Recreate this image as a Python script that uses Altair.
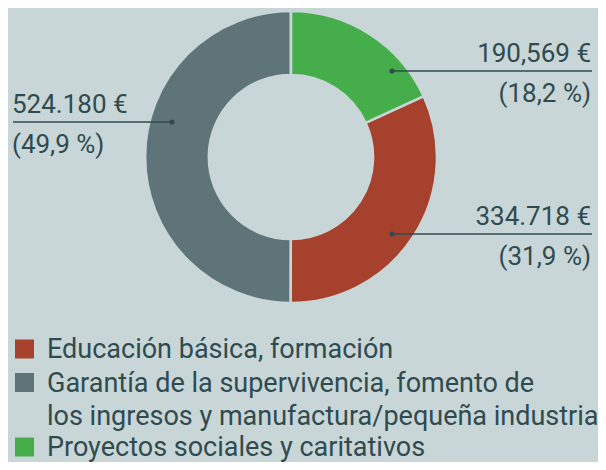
import altair as alt
import pandas as pd

# ---- data ----
categories = ["Educación básica, formación",
              "Garantía de la supervivencia, fomento de los ingresos y manufactura/pequeña industria",
              "Proyectos sociales y caritativos"]
values = [334718, 524180, 190569]
slice_order = [1, 2, 0]          # clockwise from 12 o'clock: green, red, gray
value_labels = ["334.718 €", "524.180 €", "190,569 €"]
pct_labels = ["(31,9 %)", "(49,9 %)", "(18,2 %)"]
colors = ["#a6412e", "#5e7478", "#45ae4b"]

legend_lines = ["Educación básica, formación",
                "Garantía de la supervivencia, fomento de",
                "los ingresos y manufactura/pequeña industria",
                "Proyectos sociales y caritativos"]

# ---- style / layout ----
BG = "#c9d6d7"
TXT = "#2f4b50"
FONT = "Roboto"
W, H = 590, 454
CX, CY = 283, 149

df = pd.DataFrame({"cat": categories, "value": values, "ord": slice_order})
color_scale = alt.Scale(domain=categories, range=colors)

donut = alt.Chart(df).mark_arc(
    innerRadius=82, outerRadius=146, stroke=BG, strokeWidth=2.6
).encode(
    theta=alt.Theta("value:Q", stack=True),
    order=alt.Order("ord:Q"),
    color=alt.Color("cat:N", scale=color_scale, legend=None),
    x=alt.value(CX), y=alt.value(CY),
)

# annotation layout (pixel positions of each slice's callout)
ann = pd.DataFrame({
    "val": value_labels,
    "pct": pct_labels,
    "side": ["right", "left", "right"],
    "tx": [583, 4, 583],
    "line_y": [226, 114, 63],
    "dot_x": [384, 164, 384],
    "end_x": [584, 5, 584],
})
ann["vy"] = ann["line_y"] - 9
ann["py"] = ann["line_y"] + 31

layers = [donut]
for side in ["left", "right"]:
    sub = ann[ann.side == side]
    base = alt.Chart(sub)
    layers.append(base.mark_text(align=side, baseline="alphabetic", font=FONT,
                                 fontSize=26, color=TXT).encode(
        x=alt.X("tx:Q", scale=None), y=alt.Y("vy:Q", scale=None), text="val:N"))
    layers.append(base.mark_text(align=side, baseline="alphabetic", font=FONT,
                                 fontSize=26, color=TXT).encode(
        x=alt.X("tx:Q", scale=None), y=alt.Y("py:Q", scale=None), text="pct:N"))

rules = alt.Chart(ann).mark_rule(color=TXT, strokeWidth=1.6).encode(
    x=alt.X("dot_x:Q", scale=None), x2="end_x:Q", y=alt.Y("line_y:Q", scale=None))
dots = alt.Chart(ann).mark_circle(color=TXT, size=26, opacity=1).encode(
    x=alt.X("dot_x:Q", scale=None), y=alt.Y("line_y:Q", scale=None))
layers += [rules, dots]

# legend
leg_txt = pd.DataFrame({"t": legend_lines, "row": list(range(len(legend_lines)))})
leg_txt["y"] = [350, 383.5, 416.5, 448]
leg_sq = pd.DataFrame({"cat": categories, "y": [341, 374.5, 439]})

layers.append(alt.Chart(leg_txt).mark_text(align="left", baseline="alphabetic", font=FONT,
                                           fontSize=27, color=TXT).encode(
    x=alt.value(39), y=alt.Y("y:Q", scale=None), text="t:N"))
layers.append(alt.Chart(leg_sq).mark_square(size=361, opacity=1).encode(
    x=alt.value(16.5), y=alt.Y("y:Q", scale=None),
    color=alt.Color("cat:N", scale=color_scale, legend=None)))

chart = alt.layer(*layers).properties(
    width=W, height=H, padding=0, background=BG,
    autosize=alt.AutoSizeParams(type="none"),
).configure_view(strokeWidth=0)

chart.save("out.html", embed_options={"renderer": "svg", "actions": False})
